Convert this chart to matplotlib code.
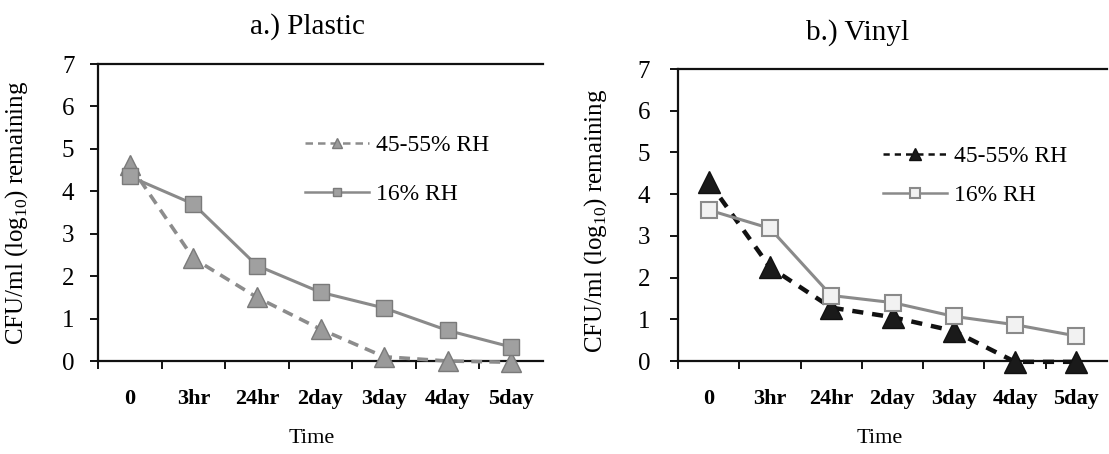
import matplotlib
matplotlib.use("Agg")
import matplotlib.pyplot as plt
from matplotlib.ticker import FixedLocator

plt.rcParams['font.family'] = ['Liberation Serif', 'DejaVu Serif']
plt.rcParams['mathtext.fontset'] = 'custom'
plt.rcParams['mathtext.rm'] = 'Liberation Serif'

categories = ["0", "3hr", "24hr", "2day", "3day", "4day", "5day"]
plastic_humid = [4.62, 2.42, 1.5, 0.75, 0.1, 0.0, -0.03]
plastic_dry = [4.35, 3.7, 2.25, 1.62, 1.25, 0.72, 0.33]
vinyl_humid = [4.3, 2.25, 1.28, 1.05, 0.72, -0.02, -0.02]
vinyl_dry = [3.62, 3.18, 1.57, 1.4, 1.07, 0.87, 0.6]
legend_labels = ["45-55% RH", "16% RH"]
titles = ["a.) Plastic", "b.) Vinyl"]

fig = plt.figure(figsize=(11.09, 4.54), dpi=100)
W, H = 1109, 454
# axes boxes in pixels: left, top, right, bottom
boxes = [(98, 64, 543, 361), (678, 69, 1107, 361)]

def setup(ax, ypad):
    n = len(categories)
    ax.set_xlim(0, n)
    ax.set_ylim(0, 7)
    ax.spines['right'].set_visible(False)
    for s in ['left', 'bottom', 'top']:
        ax.spines[s].set_linewidth(1.6)
        ax.spines[s].set_color('#111111')
    ax.xaxis.set_major_locator(FixedLocator([i + 0.5 for i in range(n)]))
    ax.set_xticklabels(categories, fontsize=16, fontweight='bold')
    ax.xaxis.set_minor_locator(FixedLocator(list(range(n))))
    ax.tick_params(axis='x', which='major', length=0, pad=20)
    ax.tick_params(axis='x', which='minor', length=6, width=1.3, direction='out')
    ax.set_yticks(range(0, 8))
    ax.tick_params(axis='y', length=6, width=1.3, labelsize=18, pad=ypad)
    ax.set_xlabel("Time", fontsize=16)
    ax.set_ylabel("CFU/ml (log$_{10}$) remaining", fontsize=18)

xs = [i + 0.5 for i in range(len(categories))]

axes = []
for (l, t, r, b), ypad in zip(boxes, [11, 14]):
    ax = fig.add_axes([l / W, 1 - b / H, (r - l) / W, (b - t) / H])
    setup(ax, ypad)
    axes.append(ax)

# pixel helpers
def fx(ax_i, px):
    l, t, r, b = boxes[ax_i]
    return (px - l) / (r - l)

def fy(ax_i, py):
    l, t, r, b = boxes[ax_i]
    return (b - py) / (b - t)

ax = axes[0]
l1, = ax.plot(xs, plastic_humid, linestyle=(0, (3, 2)), color='#8c8c8c', lw=2.6,
              marker='^', ms=14, mfc='#9a9a9a', mec='#7a7a7a', clip_on=False, zorder=3)
l2, = ax.plot(xs, plastic_dry, linestyle='-', color='#8a8a8a', lw=2.2,
              marker='s', ms=11, mfc='#a0a0a0', mec='#7a7a7a', clip_on=False, zorder=3)
ax.set_title(titles[0], fontsize=21, x=fx(0, 307), y=fy(0, 21), va='top')
leg = ax.legend([l1, l2], legend_labels, loc='center left',
                bbox_to_anchor=(fx(0, 305), fy(0, 170)), borderpad=0, borderaxespad=0,
                frameon=False, fontsize=17, handlelength=2.7, labelspacing=1.15,
                markerscale=0.55, handletextpad=0.3)
for h in leg.legend_handles:
    h.set_linewidth(1.8)

ax = axes[1]
l1, = ax.plot(xs, vinyl_humid, linestyle=(0, (2.5, 2)), color='#111111', lw=3.2,
              marker='^', ms=16, mfc='#1a1a1a', mec='#111111', clip_on=False, zorder=3)
l2, = ax.plot(xs, vinyl_dry, linestyle='-', color='#8a8a8a', lw=2.2,
              marker='s', ms=12, mfc='#f2f2f2', mec='#8a8a8a', mew=1.5, clip_on=False, zorder=3)
ax.set_title(titles[1], fontsize=21, x=fx(1, 858), y=fy(1, 27), va='top')
leg = ax.legend([l1, l2], legend_labels, loc='center left',
                bbox_to_anchor=(fx(1, 883), fy(1, 176)), borderpad=0, borderaxespad=0,
                frameon=False, fontsize=17, handlelength=2.7, labelspacing=0.75,
                markerscale=0.55, handletextpad=0.3)
for h in leg.legend_handles:
    h.set_linewidth(1.8)

axes[0].yaxis.set_label_coords(fx(0, 17), 0.5)
axes[1].yaxis.set_label_coords(fx(1, 596), 0.48)
axes[0].xaxis.set_label_coords(fx(0, 312), fy(0, 429))
axes[1].xaxis.set_label_coords(fx(1, 880), fy(1, 429))
for ax in axes:
    ax.yaxis.label.set_va('center')
    ax.xaxis.label.set_va('top')

fig.savefig("out.png", dpi=100)
